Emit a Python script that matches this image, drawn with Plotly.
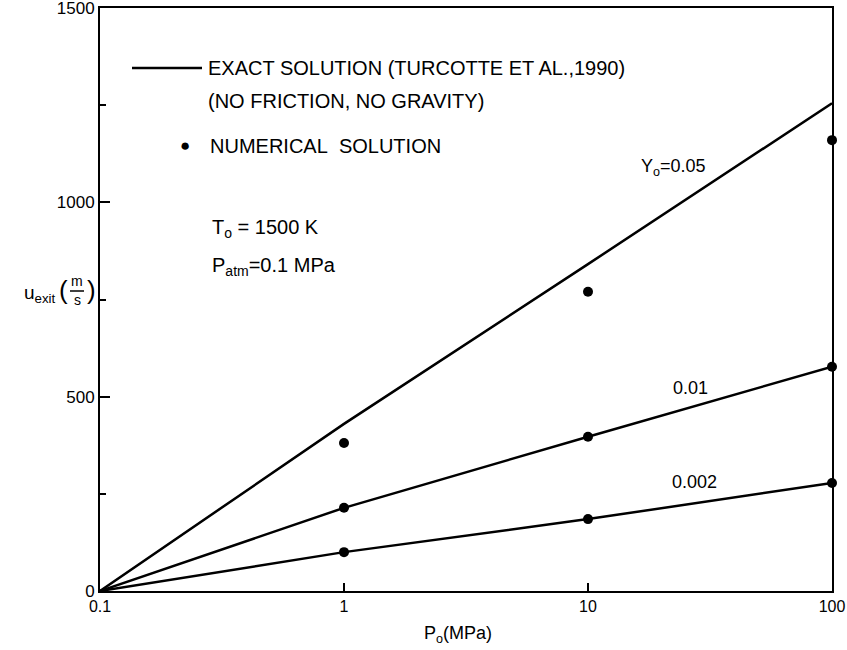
import plotly.graph_objects as go

# ---- data ----
pressure = [0.1, 1, 10, 100]                 # P_o (MPa)
exact_005 = [0, 430, 841, 1255]
exact_001 = [0, 214, 397, 577]
exact_0002 = [0, 100, 185, 278]
num_x = [1, 10, 100]
num_005 = [381, 770, 1160]
num_001 = [214, 397, 577]
num_0002 = [100, 185, 278]
x_tickvals = [0.1, 1, 10, 100]
x_ticktext = ["0.1", "1", "10", "100"]
y_tickvals = [0, 500, 1000, 1500]

W, H = 847, 650
L, R, T, B = 100, 15, 8, 59
PW, PH = W - L - R, H - T - B

def px(x):
    return (x - L) / PW

def py(y):
    return (H - B - y) / PH

FONT = "Liberation Sans, Arial, sans-serif"
fig = go.Figure()
for ys in (exact_005, exact_001, exact_0002):
    fig.add_trace(go.Scatter(x=pressure, y=ys, mode="lines",
                             line=dict(color="black", width=2.5),
                             showlegend=False, hoverinfo="skip"))
for ys in (num_005, num_001, num_0002):
    fig.add_trace(go.Scatter(x=num_x, y=ys, mode="markers",
                             marker=dict(color="black", size=10),
                             showlegend=False, hoverinfo="skip", cliponaxis=False))

ann = []
def text(x, y, s, size=20, xanchor="left"):
    ann.append(dict(x=px(x), y=py(y), xref="paper", yref="paper", text=s,
                    showarrow=False, xanchor=xanchor, yanchor="middle",
                    font=dict(family=FONT, size=size, color="black")))

text(206, 68, "EXACT SOLUTION (TURCOTTE ET AL.,1990)")
text(206, 101, "(NO FRICTION, NO GRAVITY)")
text(185, 145, "●", size=17, xanchor="center")
text(208, 146, "NUMERICAL&nbsp; SOLUTION")
text(210, 228, "T<sub>o</sub> = 1500 K")
text(210, 266, "P<sub>atm</sub>=0.1 MPa")
text(673, 167, "Y<sub>o</sub>=0.05", size=18, xanchor="center")
text(690, 388, "0.01", size=18, xanchor="center")
text(694, 482, "0.002", size=18, xanchor="center")
# y-axis title: u_exit (m / s) with a stacked fraction
text(58, 294, "u<sub>exit</sub>", size=19, xanchor="right")
text(63, 290, "(", size=26, xanchor="center")
text(77, 281, "m", size=14, xanchor="center")
text(77, 300, "s", size=14, xanchor="center")
text(91, 290, ")", size=26, xanchor="center")
text(458, 634, "P<sub>o</sub>(MPa)", size=18, xanchor="center")

fig.update_layout(
    width=W, height=H,
    margin=dict(l=L, r=R, t=T, b=B),
    paper_bgcolor="white", plot_bgcolor="white",
    annotations=ann,
    shapes=[dict(type="line", xref="paper", yref="paper",
                 x0=px(132), x1=px(202), y0=py(68), y1=py(68),
                 line=dict(color="black", width=2.5)),
            dict(type="line", xref="paper", yref="paper",
                 x0=px(70), x1=px(84), y0=py(291), y1=py(291),
                 line=dict(color="black", width=1.5))],
    xaxis=dict(type="log", range=[-1, 2], tickvals=x_tickvals, ticktext=x_ticktext,
               ticks="inside", ticklen=8, tickwidth=1.5, tickcolor="black",
               showline=True, linecolor="black", linewidth=2, mirror=True,
               showgrid=False, zeroline=False, automargin=False,
               ticklabeloverflow="allow",
               tickfont=dict(family=FONT, size=16, color="black")),
    yaxis=dict(range=[0, 1500], tickvals=y_tickvals,
               ticks="inside", ticklen=10, tickwidth=1.5, tickcolor="black",
               minor=dict(tickvals=[250, 750, 1250], ticks="inside", ticklen=6,
                          tickcolor="black", tickwidth=1.5),
               showline=True, linecolor="black", linewidth=2, mirror=True,
               showgrid=False, zeroline=False, automargin=False,
               ticklabeloverflow="allow",
               tickfont=dict(family=FONT, size=17, color="black")),
)
fig.write_html("out.html")
